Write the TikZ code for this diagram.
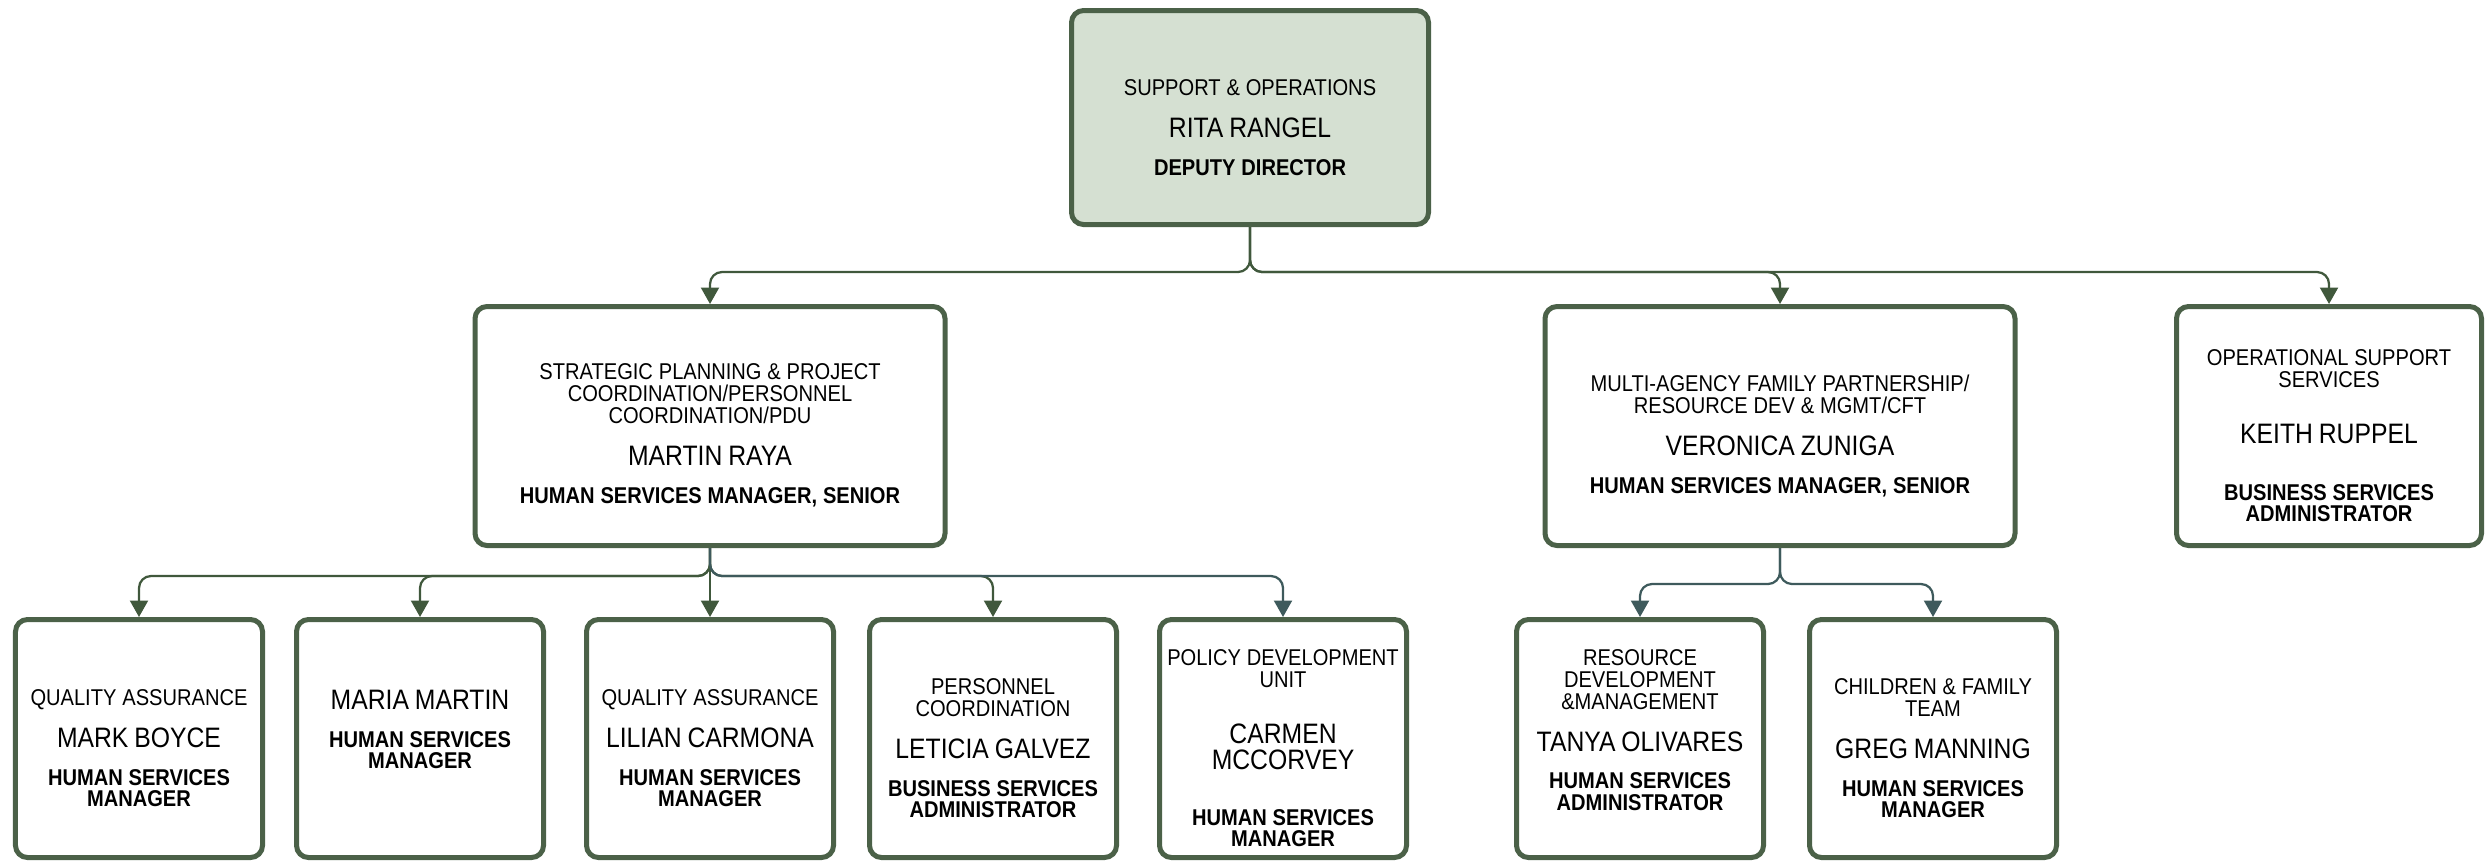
\documentclass[tikz,border=0pt]{standalone}
\usepackage{fontspec}
\setmainfont{Liberation Sans}[FakeStretch=0.88]
\usepackage{tikz}
\usetikzlibrary{arrows.meta,positioning}
\definecolor{boxgreen}{HTML}{4B6148}
\definecolor{headfill}{HTML}{D5E0D2}
\definecolor{linkgreen}{HTML}{40583C}
\definecolor{linkteal}{HTML}{3E5A5C}
\newcommand{\cpt}{\fontsize{13}{12.5}\selectfont}
\newcommand{\nme}{\fontsize{16}{15}\selectfont}
\newcommand{\ttl}{\fontsize{13}{12}\selectfont\bfseries}
\tikzset{unit/.style={draw=boxgreen,line width=1mm,rounded corners=2.4mm,fill=white,align=center,inner sep=0pt,minimum height=47.6mm,
			execute at end node={\par\vspace{-11pt}}},
		head/.style={unit,fill=headfill,minimum width=71.4mm,minimum height=42.8mm,text width=66mm},
		dept/.style={unit,minimum width=94mm,minimum height=47.8mm,text width=90mm},
		small/.style={unit,minimum width=61mm,minimum height=47.8mm,text width=58mm},
		team/.style={unit,minimum width=49.4mm,text width=49mm},
		link/.style={draw=linkgreen,line width=0.45mm,rounded corners=2.4mm,-{Triangle[length=3.3mm,width=3.6mm]}},
		tlink/.style={link,draw=linkteal}}

\begin{document}
\begin{tikzpicture}[x=0.2mm,y=-0.2mm]
		\useasboundingbox (0,0) rectangle (2492,861);
		\node[head] (top) at (1250,117.5) {{\cpt SUPPORT \& OPERATIONS\par}\vspace{8.9pt}{\nme RITA RANGEL\par}\vspace{9.6pt}{\ttl DEPUTY DIRECTOR\par}};

		% second row
		\node[dept] (spp) at (710,426) {{\cpt STRATEGIC PLANNING \& PROJECT\\COORDINATION/PERSONNEL\\COORDINATION/PDU\par}\vspace{8.9pt}{\nme MARTIN RAYA\par}\vspace{9.6pt}{\ttl HUMAN SERVICES MANAGER, SENIOR\par}};
		\node[dept] (maf) at (1780,426) {{\cpt MULTI-AGENCY FAMILY PARTNERSHIP/\\RESOURCE DEV \& MGMT/CFT\par}\vspace{8.9pt}{\nme VERONICA ZUNIGA\par}\vspace{9.6pt}{\ttl HUMAN SERVICES MANAGER, SENIOR\par}};
		\node[small] (oss) at (2329,426) {{\cpt OPERATIONAL SUPPORT\\SERVICES\par}\vspace{16.9pt}{\nme KEITH RUPPEL\par}\vspace{19.9pt}{\ttl BUSINESS SERVICES\\ADMINISTRATOR\par}};

		% third row
		\node[team] (mb) at (139,738.5) {{\cpt QUALITY ASSURANCE\par}\vspace{8.9pt}{\nme MARK BOYCE\par}\vspace{9.6pt}{\ttl HUMAN SERVICES\\MANAGER\par}};
		\node[team] (mm) at (420,738.5) {{\nme MARIA MARTIN\par}\vspace{9.6pt}{\ttl HUMAN SERVICES\\MANAGER\par}\vspace{21.4pt}};
		\node[team] (lc) at (710,738.5) {{\cpt QUALITY ASSURANCE\par}\vspace{8.9pt}{\nme LILIAN CARMONA\par}\vspace{9.6pt}{\ttl HUMAN SERVICES\\MANAGER\par}};
		\node[team] (lg) at (993,738.5) {{\cpt PERSONNEL\\COORDINATION\par}\vspace{8.9pt}{\nme LETICIA GALVEZ\par}\vspace{9.6pt}{\ttl BUSINESS SERVICES\\ADMINISTRATOR\par}};
		\node[team] (pd) at (1283,738.5) {{\cpt POLICY DEVELOPMENT\\UNIT\par}\vspace{16.9pt}{\nme CARMEN\\MCCORVEY\par}\vspace{19.9pt}{\ttl HUMAN SERVICES\\MANAGER\par}};
		\node[team] (to) at (1640,738.5) {{\cpt RESOURCE\\DEVELOPMENT\\\&MANAGEMENT\par}\vspace{8.9pt}{\nme TANYA OLIVARES\par}\vspace{9.6pt}{\ttl HUMAN SERVICES\\ADMINISTRATOR\par}\vspace{21pt}};
		\node[team] (gm) at (1933,738.5) {{\cpt CHILDREN \& FAMILY\\TEAM\par}\vspace{8.9pt}{\nme GREG MANNING\par}\vspace{9.6pt}{\ttl HUMAN SERVICES\\MANAGER\par}};

		\coordinate (bus0) at (0,272);
		\coordinate (bus1) at (0,576);
		\coordinate (bus2) at (0,584);

		\draw[link] (top.south) -- (top.south |- bus0) -| (spp.north);
		\draw[link] (top.south) -- (top.south |- bus0) -| (maf.north);
		\draw[link] (top.south) -- (top.south |- bus0) -| (oss.north);

		\draw[link] (spp.south) -- (spp.south |- bus1) -| (mb.north);
		\draw[link] (spp.south) -- (spp.south |- bus1) -| (mm.north);
		\draw[link] (spp.south) -- (lc.north);
		\draw[link] (spp.south) -- (spp.south |- bus1) -| (lg.north);
		\draw[tlink] (spp.south) -- (spp.south |- bus1) -| (pd.north);

		\draw[tlink] (maf.south) -- (maf.south |- bus2) -| (to.north);
		\draw[tlink] (maf.south) -- (maf.south |- bus2) -| (gm.north);
	\end{tikzpicture}
\end{document}
